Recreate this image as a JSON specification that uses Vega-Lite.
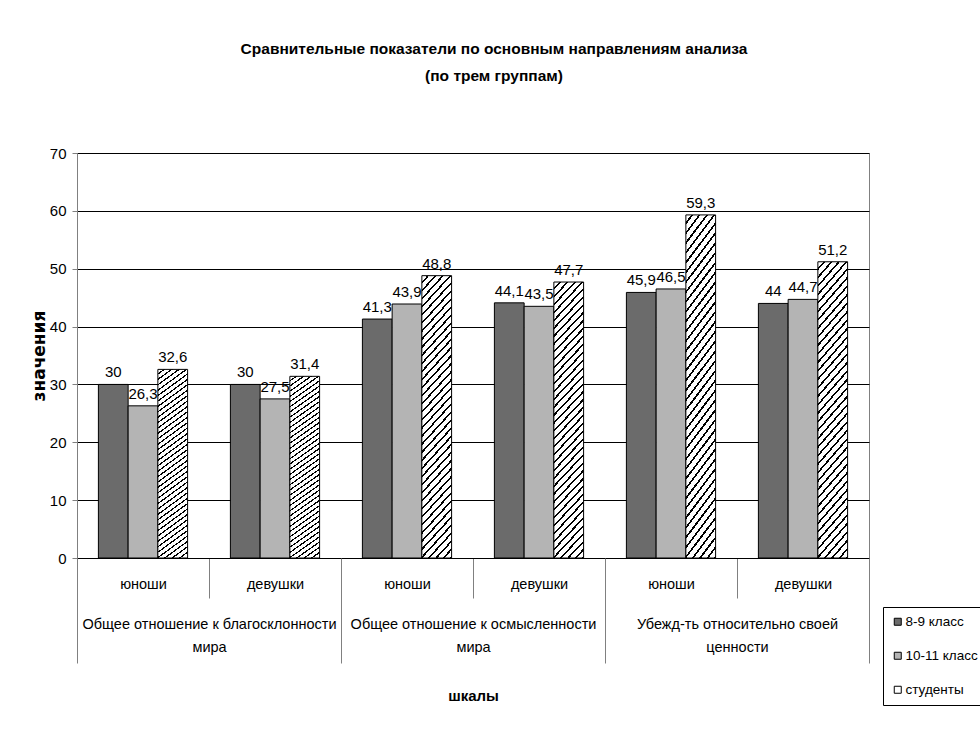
{
  "$schema": "https://vega.github.io/schema/vega-lite/v6.json",
  "width": 792,
  "height": 405,
  "autosize": "none",
  "padding": {"left": 77, "top": 153, "right": 111, "bottom": 182},
  "background": "white",
  "title": {
    "text": ["Сравнительные показатели по основным направлениям анализа", "(по трем группам)"],
    "font": "Liberation Sans",
    "fontSize": 15.5,
    "fontWeight": "bold",
    "color": "black",
    "anchor": "middle",
    "frame": "group",
    "dx": 21,
    "offset": 62,
    "lineHeight": 27
  },
  "datasets": {
    "bars": [
      {"category": "Общее отношение к благосклонности мира", "cell": "1|юноши", "group": "8-9 класс", "value": 30},
      {"category": "Общее отношение к благосклонности мира", "cell": "1|юноши", "group": "10-11 класс", "value": 26.3},
      {"category": "Общее отношение к благосклонности мира", "cell": "1|юноши", "group": "студенты", "value": 32.6},
      {"category": "Общее отношение к благосклонности мира", "cell": "2|девушки", "group": "8-9 класс", "value": 30},
      {"category": "Общее отношение к благосклонности мира", "cell": "2|девушки", "group": "10-11 класс", "value": 27.5},
      {"category": "Общее отношение к благосклонности мира", "cell": "2|девушки", "group": "студенты", "value": 31.4},
      {"category": "Общее отношение к осмысленности мира", "cell": "3|юноши", "group": "8-9 класс", "value": 41.3},
      {"category": "Общее отношение к осмысленности мира", "cell": "3|юноши", "group": "10-11 класс", "value": 43.9},
      {"category": "Общее отношение к осмысленности мира", "cell": "3|юноши", "group": "студенты", "value": 48.8},
      {"category": "Общее отношение к осмысленности мира", "cell": "4|девушки", "group": "8-9 класс", "value": 44.1},
      {"category": "Общее отношение к осмысленности мира", "cell": "4|девушки", "group": "10-11 класс", "value": 43.5},
      {"category": "Общее отношение к осмысленности мира", "cell": "4|девушки", "group": "студенты", "value": 47.7},
      {"category": "Убежд-ть  относительно своей ценности", "cell": "5|юноши", "group": "8-9 класс", "value": 45.9},
      {"category": "Убежд-ть  относительно своей ценности", "cell": "5|юноши", "group": "10-11 класс", "value": 46.5},
      {"category": "Убежд-ть  относительно своей ценности", "cell": "5|юноши", "group": "студенты", "value": 59.3},
      {"category": "Убежд-ть  относительно своей ценности", "cell": "6|девушки", "group": "8-9 класс", "value": 44},
      {"category": "Убежд-ть  относительно своей ценности", "cell": "6|девушки", "group": "10-11 класс", "value": 44.7},
      {"category": "Убежд-ть  относительно своей ценности", "cell": "6|девушки", "group": "студенты", "value": 51.2}
    ],
    "cats": [
      {"category": "Общее отношение к благосклонности мира"},
      {"category": "Общее отношение к осмысленности мира"},
      {"category": "Убежд-ть  относительно своей ценности"}
    ]
  },
  "layer": [
    {
      "data": {"name": "bars"},
      "encoding": {
        "x": {
          "field": "cell",
          "type": "nominal",
          "sort": null,
          "scale": {"paddingInner": 0, "paddingOuter": 0},
          "axis": {
            "orient": "bottom",
            "title": null,
            "labelExpr": "split(datum.label, '|')[1]",
            "labelAngle": 0,
            "tickBand": "extent",
            "tickSize": 40,
            "tickColor": "#808080",
            "domainColor": "black",
            "labelPadding": -21,
            "labelFont": "Liberation Sans",
            "labelFontSize": 14.5,
            "labelColor": "black",
            "grid": false
          }
        },
        "xOffset": {
          "field": "group",
          "type": "nominal",
          "sort": ["8-9 класс", "10-11 класс", "студенты"],
          "scale": {"paddingInner": 0, "paddingOuter": 0.72}
        },
        "y": {
          "field": "value",
          "type": "quantitative",
          "scale": {"domain": [0, 70]},
          "axis": {
            "values": [0, 10, 20, 30, 40, 50, 60, 70],
            "title": "значения",
            "grid": true,
            "gridColor": "black",
            "domainColor": "#808080",
            "tickColor": "#808080",
            "tickSize": 5,
            "labelPadding": 6,
            "labelFont": "Liberation Sans",
            "labelFontSize": 15,
            "labelColor": "black",
            "titleFont": "DejaVu Sans",
            "titleFontSize": 17,
            "titleFontWeight": "bold",
            "titleColor": "black",
            "titlePadding": 1
          }
        }
      },
      "layer": [
        {
          "mark": {"type": "bar", "stroke": "black", "strokeWidth": 1},
          "encoding": {
            "fill": {
              "condition": {
                "test": "datum.group === 'студенты'",
                "value": {
                  "gradient": "linear",
                  "x1": 0, "y1": 0, "x2": 0.13, "y2": 1.13,
                  "stops": [
                    {"offset": 0, "color": "#fff"}, {"offset": 0.018, "color": "#fff"}, {"offset": 0.018, "color": "#000"}, {"offset": 0.025, "color": "#000"},
                    {"offset": 0.025, "color": "#fff"}, {"offset": 0.043, "color": "#fff"}, {"offset": 0.043, "color": "#000"}, {"offset": 0.05, "color": "#000"},
                    {"offset": 0.05, "color": "#fff"}, {"offset": 0.068, "color": "#fff"}, {"offset": 0.068, "color": "#000"}, {"offset": 0.075, "color": "#000"},
                    {"offset": 0.075, "color": "#fff"}, {"offset": 0.093, "color": "#fff"}, {"offset": 0.093, "color": "#000"}, {"offset": 0.1, "color": "#000"},
                    {"offset": 0.1, "color": "#fff"}, {"offset": 0.118, "color": "#fff"}, {"offset": 0.118, "color": "#000"}, {"offset": 0.125, "color": "#000"},
                    {"offset": 0.125, "color": "#fff"}, {"offset": 0.143, "color": "#fff"}, {"offset": 0.143, "color": "#000"}, {"offset": 0.15, "color": "#000"},
                    {"offset": 0.15, "color": "#fff"}, {"offset": 0.168, "color": "#fff"}, {"offset": 0.168, "color": "#000"}, {"offset": 0.175, "color": "#000"},
                    {"offset": 0.175, "color": "#fff"}, {"offset": 0.193, "color": "#fff"}, {"offset": 0.193, "color": "#000"}, {"offset": 0.2, "color": "#000"},
                    {"offset": 0.2, "color": "#fff"}, {"offset": 0.218, "color": "#fff"}, {"offset": 0.218, "color": "#000"}, {"offset": 0.225, "color": "#000"},
                    {"offset": 0.225, "color": "#fff"}, {"offset": 0.243, "color": "#fff"}, {"offset": 0.243, "color": "#000"}, {"offset": 0.25, "color": "#000"},
                    {"offset": 0.25, "color": "#fff"}, {"offset": 0.268, "color": "#fff"}, {"offset": 0.268, "color": "#000"}, {"offset": 0.275, "color": "#000"},
                    {"offset": 0.275, "color": "#fff"}, {"offset": 0.293, "color": "#fff"}, {"offset": 0.293, "color": "#000"}, {"offset": 0.3, "color": "#000"},
                    {"offset": 0.3, "color": "#fff"}, {"offset": 0.318, "color": "#fff"}, {"offset": 0.318, "color": "#000"}, {"offset": 0.325, "color": "#000"},
                    {"offset": 0.325, "color": "#fff"}, {"offset": 0.343, "color": "#fff"}, {"offset": 0.343, "color": "#000"}, {"offset": 0.35, "color": "#000"},
                    {"offset": 0.35, "color": "#fff"}, {"offset": 0.368, "color": "#fff"}, {"offset": 0.368, "color": "#000"}, {"offset": 0.375, "color": "#000"},
                    {"offset": 0.375, "color": "#fff"}, {"offset": 0.393, "color": "#fff"}, {"offset": 0.393, "color": "#000"}, {"offset": 0.4, "color": "#000"},
                    {"offset": 0.4, "color": "#fff"}, {"offset": 0.418, "color": "#fff"}, {"offset": 0.418, "color": "#000"}, {"offset": 0.425, "color": "#000"},
                    {"offset": 0.425, "color": "#fff"}, {"offset": 0.443, "color": "#fff"}, {"offset": 0.443, "color": "#000"}, {"offset": 0.45, "color": "#000"},
                    {"offset": 0.45, "color": "#fff"}, {"offset": 0.468, "color": "#fff"}, {"offset": 0.468, "color": "#000"}, {"offset": 0.475, "color": "#000"},
                    {"offset": 0.475, "color": "#fff"}, {"offset": 0.493, "color": "#fff"}, {"offset": 0.493, "color": "#000"}, {"offset": 0.5, "color": "#000"},
                    {"offset": 0.5, "color": "#fff"}, {"offset": 0.518, "color": "#fff"}, {"offset": 0.518, "color": "#000"}, {"offset": 0.525, "color": "#000"},
                    {"offset": 0.525, "color": "#fff"}, {"offset": 0.543, "color": "#fff"}, {"offset": 0.543, "color": "#000"}, {"offset": 0.55, "color": "#000"},
                    {"offset": 0.55, "color": "#fff"}, {"offset": 0.568, "color": "#fff"}, {"offset": 0.568, "color": "#000"}, {"offset": 0.575, "color": "#000"},
                    {"offset": 0.575, "color": "#fff"}, {"offset": 0.593, "color": "#fff"}, {"offset": 0.593, "color": "#000"}, {"offset": 0.6, "color": "#000"},
                    {"offset": 0.6, "color": "#fff"}, {"offset": 0.618, "color": "#fff"}, {"offset": 0.618, "color": "#000"}, {"offset": 0.625, "color": "#000"},
                    {"offset": 0.625, "color": "#fff"}, {"offset": 0.643, "color": "#fff"}, {"offset": 0.643, "color": "#000"}, {"offset": 0.65, "color": "#000"},
                    {"offset": 0.65, "color": "#fff"}, {"offset": 0.668, "color": "#fff"}, {"offset": 0.668, "color": "#000"}, {"offset": 0.675, "color": "#000"},
                    {"offset": 0.675, "color": "#fff"}, {"offset": 0.693, "color": "#fff"}, {"offset": 0.693, "color": "#000"}, {"offset": 0.7, "color": "#000"},
                    {"offset": 0.7, "color": "#fff"}, {"offset": 0.718, "color": "#fff"}, {"offset": 0.718, "color": "#000"}, {"offset": 0.725, "color": "#000"},
                    {"offset": 0.725, "color": "#fff"}, {"offset": 0.743, "color": "#fff"}, {"offset": 0.743, "color": "#000"}, {"offset": 0.75, "color": "#000"},
                    {"offset": 0.75, "color": "#fff"}, {"offset": 0.768, "color": "#fff"}, {"offset": 0.768, "color": "#000"}, {"offset": 0.775, "color": "#000"},
                    {"offset": 0.775, "color": "#fff"}, {"offset": 0.793, "color": "#fff"}, {"offset": 0.793, "color": "#000"}, {"offset": 0.8, "color": "#000"},
                    {"offset": 0.8, "color": "#fff"}, {"offset": 0.818, "color": "#fff"}, {"offset": 0.818, "color": "#000"}, {"offset": 0.825, "color": "#000"},
                    {"offset": 0.825, "color": "#fff"}, {"offset": 0.843, "color": "#fff"}, {"offset": 0.843, "color": "#000"}, {"offset": 0.85, "color": "#000"},
                    {"offset": 0.85, "color": "#fff"}, {"offset": 0.868, "color": "#fff"}, {"offset": 0.868, "color": "#000"}, {"offset": 0.875, "color": "#000"},
                    {"offset": 0.875, "color": "#fff"}, {"offset": 0.893, "color": "#fff"}, {"offset": 0.893, "color": "#000"}, {"offset": 0.9, "color": "#000"},
                    {"offset": 0.9, "color": "#fff"}, {"offset": 0.918, "color": "#fff"}, {"offset": 0.918, "color": "#000"}, {"offset": 0.925, "color": "#000"},
                    {"offset": 0.925, "color": "#fff"}, {"offset": 0.943, "color": "#fff"}, {"offset": 0.943, "color": "#000"}, {"offset": 0.95, "color": "#000"},
                    {"offset": 0.95, "color": "#fff"}, {"offset": 0.968, "color": "#fff"}, {"offset": 0.968, "color": "#000"}, {"offset": 0.975, "color": "#000"},
                    {"offset": 0.975, "color": "#fff"}, {"offset": 0.993, "color": "#fff"}, {"offset": 0.993, "color": "#000"}, {"offset": 1, "color": "#000"}
                  ]
                }
              },
              "field": "group",
              "type": "nominal",
              "sort": ["8-9 класс", "10-11 класс", "студенты"],
              "scale": {
                "domain": ["8-9 класс", "10-11 класс", "студенты"],
                "range": ["#6b6b6b", "#b4b4b4", "#ffffff"]
              },
              "legend": {
                "title": null,
                "orient": "none",
                "legendX": 806,
                "legendY": 454,
                "strokeColor": "black",
                "fillColor": "white",
                "padding": 8,
                "symbolType": "square",
                "symbolSize": 49,
                "symbolStrokeColor": "black",
                "symbolStrokeWidth": 1,
                "labelFont": "Liberation Sans",
                "labelFontSize": 13.5,
                "labelColor": "black",
                "labelOffset": 1,
                "rowPadding": 19
              }
            }
          }
        },
        {
          "mark": {
            "type": "text",
            "baseline": "bottom",
            "dy": -4,
            "font": "Liberation Sans",
            "fontSize": 15,
            "color": "black"
          },
          "encoding": {
            "text": {"field": "value", "type": "quantitative", "format": "~g"}
          }
        }
      ]
    },
    {
      "data": {"name": "cats"},
      "mark": {"type": "bar", "opacity": 0},
      "encoding": {
        "x": {
          "field": "category",
          "type": "nominal",
          "sort": null,
          "scale": {"paddingInner": 0, "paddingOuter": 0},
          "axis": {
            "orient": "bottom",
            "title": "шкалы",
            "labelExpr": "[substring(datum.label, 0, lastindexof(datum.label, ' ')), substring(datum.label, lastindexof(datum.label, ' ') + 1)]",
            "labelAngle": 0,
            "labelLimit": 400,
            "labelLineHeight": 23,
            "tickBand": "extent",
            "tickSize": 105,
            "tickColor": "#808080",
            "domain": false,
            "grid": false,
            "labelPadding": -46,
            "labelFont": "Liberation Sans",
            "labelFontSize": 14.5,
            "labelColor": "black",
            "titleFont": "Liberation Sans",
            "titleFontSize": 15,
            "titleFontWeight": "bold",
            "titleColor": "black",
            "titlePadding": 25
          }
        }
      }
    }
  ],
  "resolve": {"scale": {"x": "independent"}, "axis": {"x": "independent"}},
  "config": {
    "locale": {
      "number": {"decimal": ",", "thousands": " ", "grouping": [3], "currency": ["", ""]}
    },
    "view": {"stroke": "#808080", "strokeWidth": 1}
  }
}
